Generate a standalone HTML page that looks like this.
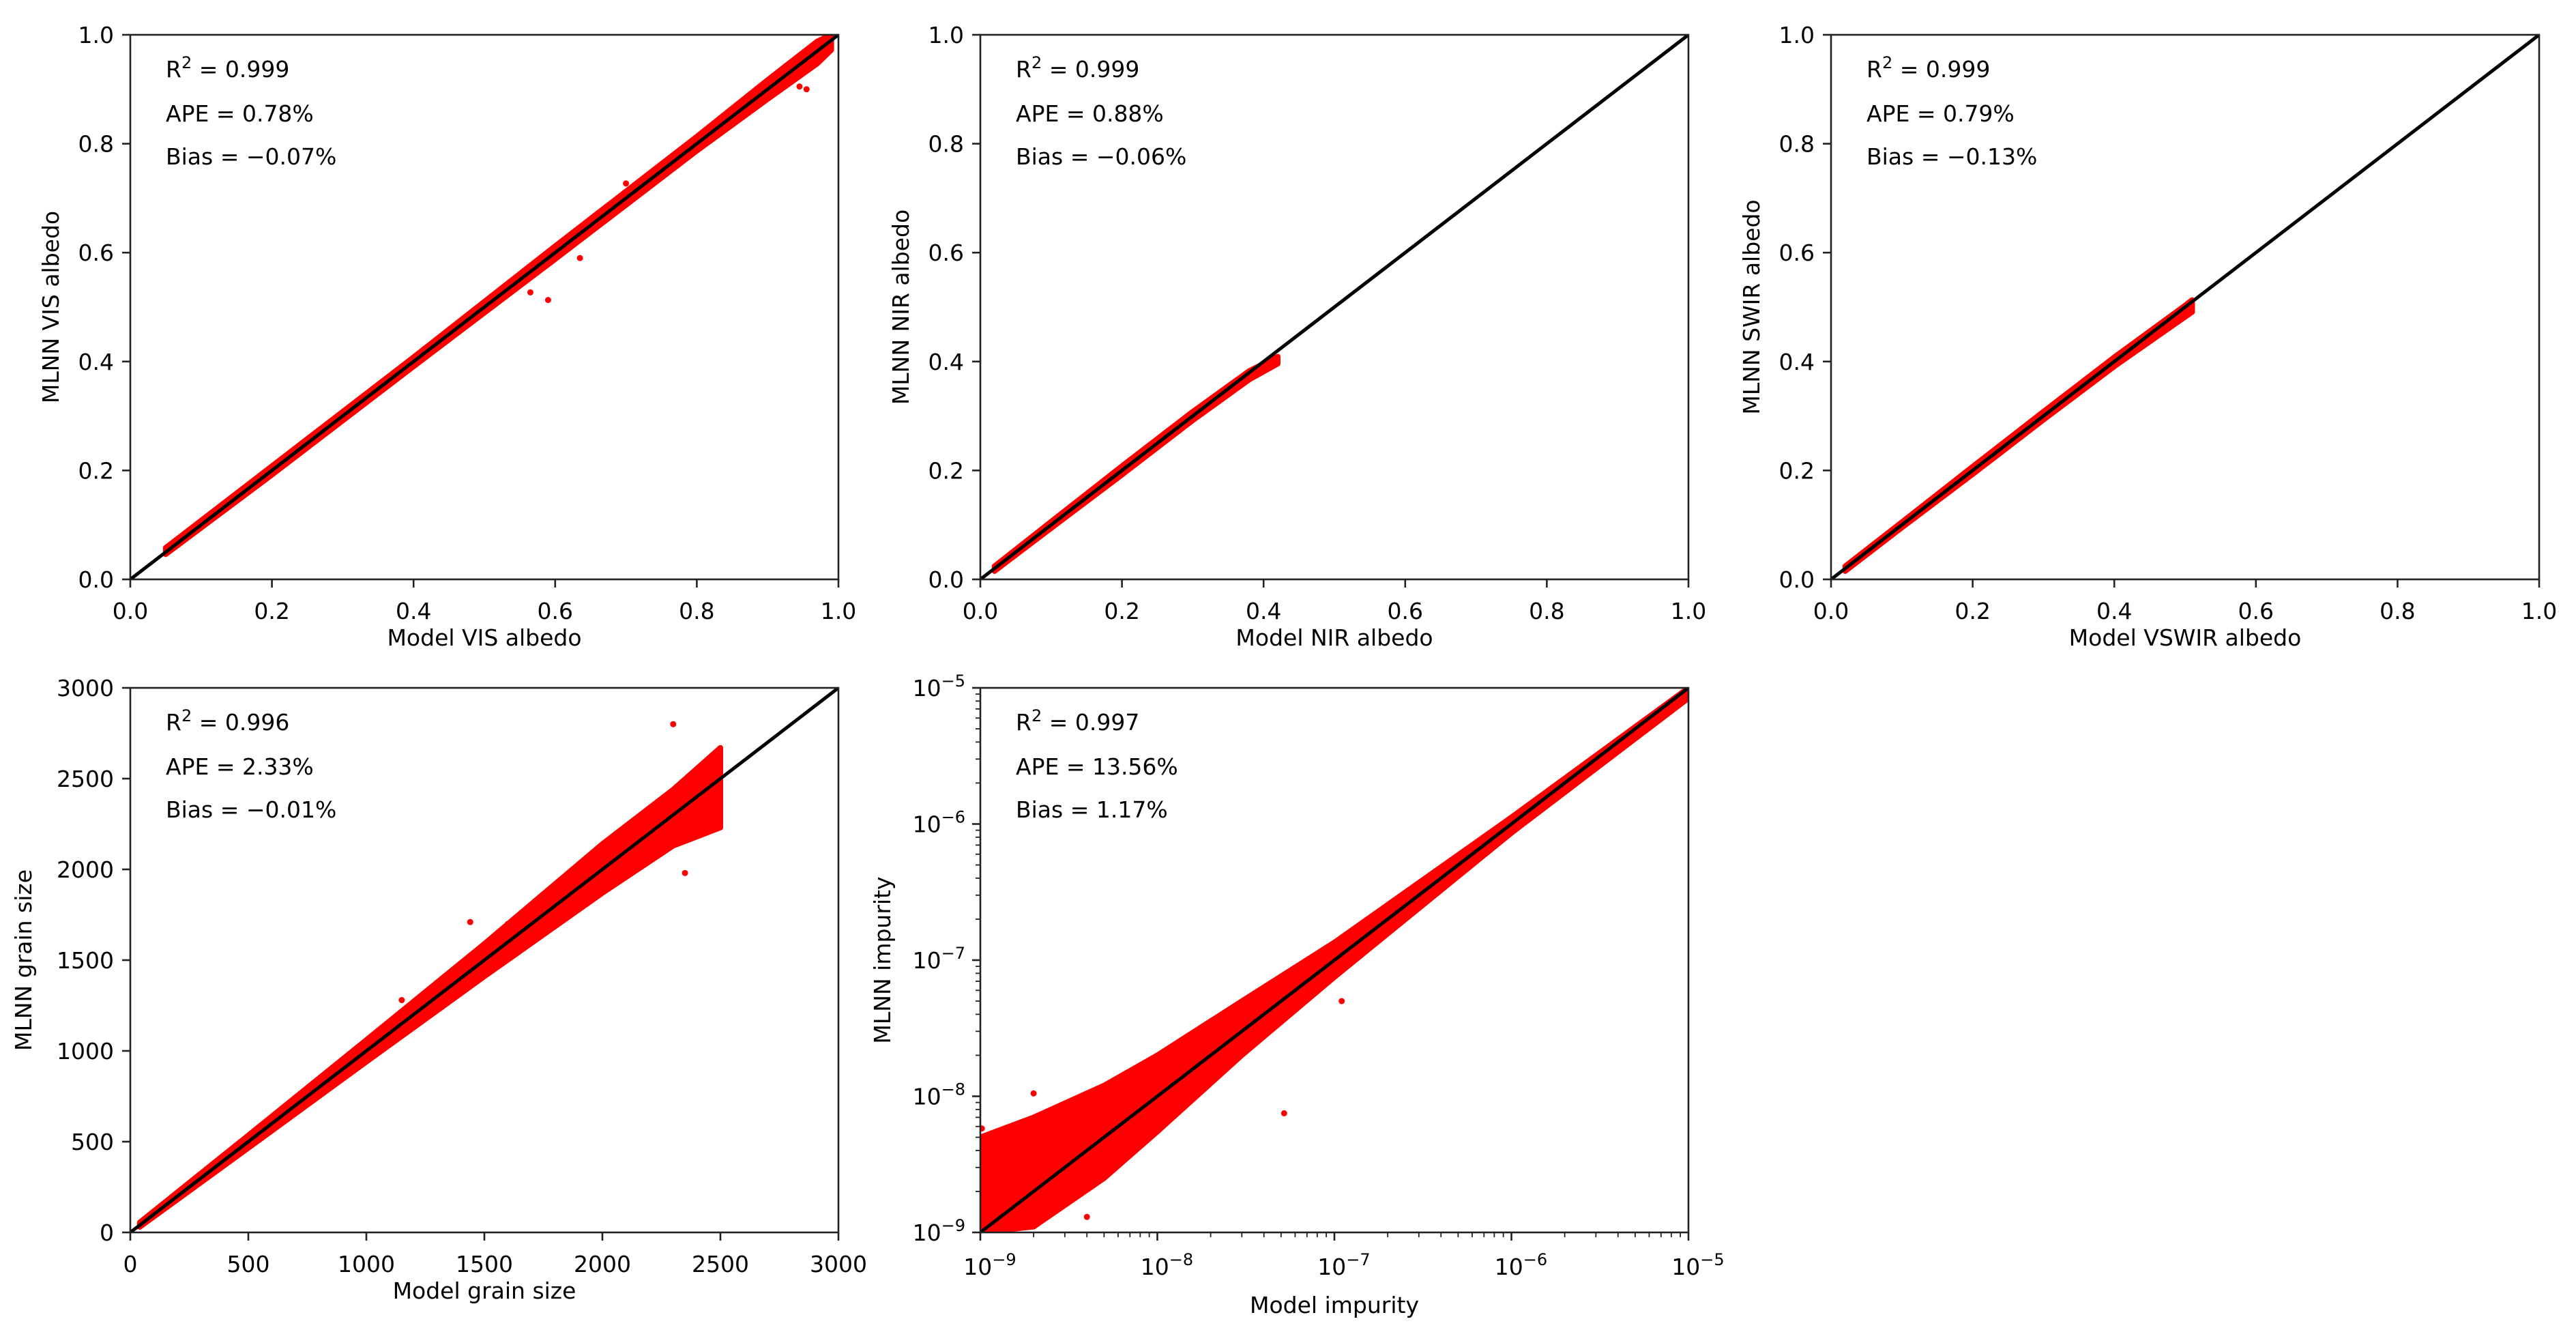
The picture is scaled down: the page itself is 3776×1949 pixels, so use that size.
<!DOCTYPE html>
<html><head><meta charset="utf-8">
<style>
html,body{margin:0;padding:0;background:#fff;}
svg{display:block;font-family:"DejaVu Sans","Liberation Sans",sans-serif;}
</style></head>
<body>
<svg id="fig" width="3776" height="1949" viewBox="0 0 3776 1949" xmlns="http://www.w3.org/2000/svg"></svg>
<script>
// ---- data ----
const visX = [0.05,0.2,0.4,0.6,0.8,0.9,0.97,0.99];
const visLo = [0.046,0.192,0.391,0.588,0.787,0.882,0.947,0.972];
const visHi = [0.058,0.208,0.408,0.612,0.813,0.917,0.988,1.0];
const visOutX = [0.59,0.565,0.635,0.955,0.945,0.70];
const visOutY = [0.513,0.527,0.59,0.9,0.905,0.727];

const nirX = [0.02,0.1,0.2,0.3,0.38,0.42];
const nirLo = [0.015,0.094,0.192,0.292,0.367,0.396];
const nirHi = [0.024,0.106,0.208,0.308,0.383,0.409];

const swX = [0.02,0.1,0.2,0.3,0.4,0.5,0.51];
const swLo = [0.015,0.095,0.193,0.293,0.391,0.482,0.491];
const swHi = [0.024,0.105,0.207,0.308,0.408,0.503,0.513];

const gsX = [40,500,1000,1500,2000,2300,2500];
const gsLo = [30,465,940,1410,1870,2130,2230];
const gsHi = [55,535,1060,1590,2140,2440,2670];
const gsOutX = [2300,1600,1150,2350,1440];
const gsOutY = [2800,1700,1280,1980,1710];

const imX = [1e-9,2e-9,5e-9,1e-8,3e-8,1e-7,1e-6,1e-5];
const imLo = [1e-9,1.1e-9,2.5e-9,5.5e-9,2e-8,7.5e-8,8.6e-7,8.4e-6];
const imHi = [5e-9,7e-9,1.2e-8,2.0e-8,5e-8,1.35e-7,1.12e-6,1.0e-5];
const imOutX = [1.1e-7,5.2e-8,2e-9,1.02e-9,4e-9];
const imOutY = [5e-8,7.5e-9,1.05e-8,5.8e-9,1.3e-9];

const linTicks = [0,0.2,0.4,0.6,0.8,1.0];
const linTickLabels = ["0.0","0.2","0.4","0.6","0.8","1.0"];
const gsTicks = [0,500,1000,1500,2000,2500,3000];
const gsTickLabels = ["0","500","1000","1500","2000","2500","3000"];
const logExps = [-9,-8,-7,-6,-5];

const NS = "http://www.w3.org/2000/svg";
const svg = document.getElementById('fig');
function mk(tag, attrs, parent){
  const e = document.createElementNS(NS, tag);
  for (const k in attrs) e.setAttribute(k, attrs[k]);
  (parent||svg).appendChild(e);
  return e;
}

const W = 1038, H = 798;
const panels = [
  {id:'vis', L:191, T:51, log:false, dom:[0,1], ticks:linTicks, labels:linTickLabels,
   xs:visX, lo:visLo, hi:visHi, ox:visOutX, oy:visOutY,
   xl:'Model VIS albedo', yl:'MLNN VIS albedo', st:['0.999','0.78%','\u22120.07%']},
  {id:'nir', L:1437, T:51, log:false, dom:[0,1], ticks:linTicks, labels:linTickLabels,
   xs:nirX, lo:nirLo, hi:nirHi, ox:[], oy:[],
   xl:'Model NIR albedo', yl:'MLNN NIR albedo', st:['0.999','0.88%','\u22120.06%']},
  {id:'vswir', L:2684, T:51, log:false, dom:[0,1], ticks:linTicks, labels:linTickLabels,
   xs:swX, lo:swLo, hi:swHi, ox:[], oy:[],
   xl:'Model VSWIR albedo', yl:'MLNN SWIR albedo', st:['0.999','0.79%','\u22120.13%']},
  {id:'grain', L:191, T:1008, log:false, dom:[0,3000], ticks:gsTicks, labels:gsTickLabels,
   xs:gsX, lo:gsLo, hi:gsHi, ox:gsOutX, oy:gsOutY,
   xl:'Model grain size', yl:'MLNN grain size', st:['0.996','2.33%','\u22120.01%']},
  {id:'impurity', L:1437, T:1008, log:true, dom:[-9,-5], ticks:null, labels:null,
   xs:imX, lo:imLo, hi:imHi, ox:imOutX, oy:imOutY,
   xl:'Model impurity', yl:'MLNN impurity', st:['0.997','13.56%','1.17%']}
];

panels.forEach(p=>{
  const g = mk('g',{});
  
  
  const t = v => p.log ? Math.log10(v) : v;
  const sx = v => p.L + (t(v)-p.dom[0])/(p.dom[1]-p.dom[0])*W;
  const sy = v => p.T + H - (t(v)-p.dom[0])/(p.dom[1]-p.dom[0])*H;
  const cid = 'clip-'+p.id;
  const cp = mk('clipPath',{id:cid}, g);
  mk('rect',{x:p.L,y:p.T,width:W,height:H}, cp);
  const dg = mk('g',{'clip-path':'url(#'+cid+')'}, g);
  let pts = [];
  p.xs.forEach((x,i)=>pts.push(sx(x).toFixed(1)+','+sy(p.hi[i]).toFixed(1)));
  for (let i=p.xs.length-1;i>=0;i--) pts.push(sx(p.xs[i]).toFixed(1)+','+sy(p.lo[i]).toFixed(1));
  const band = mk('polygon',{points:pts.join(' '), fill:'#ff0000', stroke:'#ff0000','stroke-width':8,'stroke-linejoin':'round'}, dg);
  
  
  p.ox.forEach((x,i)=>{
    const c = mk('circle',{cx:sx(x),cy:sy(p.oy[i]),r:4.5,fill:'#ff0000'}, dg);
    
    
  });
  const lo = p.log ? Math.pow(10,p.dom[0]) : p.dom[0];
  const hi = p.log ? Math.pow(10,p.dom[1]) : p.dom[1];
  const ln = mk('line',{x1:sx(lo),y1:sy(lo),x2:sx(hi),y2:sy(hi),stroke:'#000','stroke-width':5}, dg);
  
  
  const fr = mk('rect',{x:p.L,y:p.T,width:W,height:H,fill:'none',stroke:'#222','stroke-width':2.6}, g);
  
  
  const fs = 33;
  if (!p.log){
    p.ticks.forEach((v,i)=>{
      const x = sx(v), y = sy(v);
      mk('line',{x1:x,y1:p.T+H,x2:x,y2:p.T+H+12,stroke:'#222','stroke-width':2.6}, g);
      mk('line',{x1:p.L,y1:y,x2:p.L-12,y2:y,stroke:'#222','stroke-width':2.6}, g);
      const tx = mk('text',{x:x,y:p.T+H+58,'font-size':fs,'text-anchor':'middle',fill:'#000'}, g);
      tx.textContent = p.labels[i];
      
      
      const ty = mk('text',{x:p.L-24,y:y+12,'font-size':fs,'text-anchor':'end',fill:'#000'}, g);
      ty.textContent = p.labels[i];
      
      
    });
  } else {
    logExps.forEach((e,i)=>{
      const v = Math.pow(10,e);
      const x = sx(v), y = sy(v);
      mk('line',{x1:x,y1:p.T+H,x2:x,y2:p.T+H+12,stroke:'#222','stroke-width':2.6}, g);
      mk('line',{x1:p.L,y1:y,x2:p.L-12,y2:y,stroke:'#222','stroke-width':2.6}, g);
      if (i<logExps.length-1){
        for (let m=2;m<=9;m++){
          const mv = m*v;
          mk('line',{x1:sx(mv),y1:p.T+H,x2:sx(mv),y2:p.T+H+7,stroke:'#222','stroke-width':1.8}, g);
          mk('line',{x1:p.L,y1:sy(mv),x2:p.L-7,y2:sy(mv),stroke:'#222','stroke-width':1.8}, g);
        }
      }
      const tx = mk('text',{x:x+14,y:p.T+H+62,'font-size':fs,'text-anchor':'middle',fill:'#000'}, g);
      tx.innerHTML = '10<tspan dy="-14" font-size="24">\u2212'+(-e)+'</tspan>';
      
      
      const ty = mk('text',{x:p.L-22,y:y+12,'font-size':fs,'text-anchor':'end',fill:'#000'}, g);
      ty.innerHTML = '10<tspan dy="-14" font-size="24">\u2212'+(-e)+'</tspan>';
      
      
    });
  }
  const xl = mk('text',{x:p.L+W/2,y:p.T+H+(p.log?118:97),'font-size':fs,'text-anchor':'middle',fill:'#000'}, g);
  xl.textContent = p.xl;
  
  
  const yx = p.L - (p.log?132:(p.dom[1]>10?145:105));
  const yl = mk('text',{x:yx,y:p.T+H/2,'font-size':fs,'text-anchor':'middle',fill:'#000',transform:'rotate(-90 '+yx+' '+(p.T+H/2)+')'}, g);
  yl.textContent = p.yl;
  
  
  const s1 = mk('text',{x:p.L+52,y:p.T+62,'font-size':fs,fill:'#000'}, g);
  s1.innerHTML = 'R<tspan dy="-13" font-size="24">2</tspan><tspan dy="13"> = '+p.st[0]+'</tspan>';
  
  
  const s2 = mk('text',{x:p.L+52,y:p.T+127,'font-size':fs,fill:'#000'}, g);
  s2.textContent = 'APE = '+p.st[1];
  
  
  const s3 = mk('text',{x:p.L+52,y:p.T+190,'font-size':fs,fill:'#000'}, g);
  s3.textContent = 'Bias = '+p.st[2];
  
  
});
</script>
</body></html>
